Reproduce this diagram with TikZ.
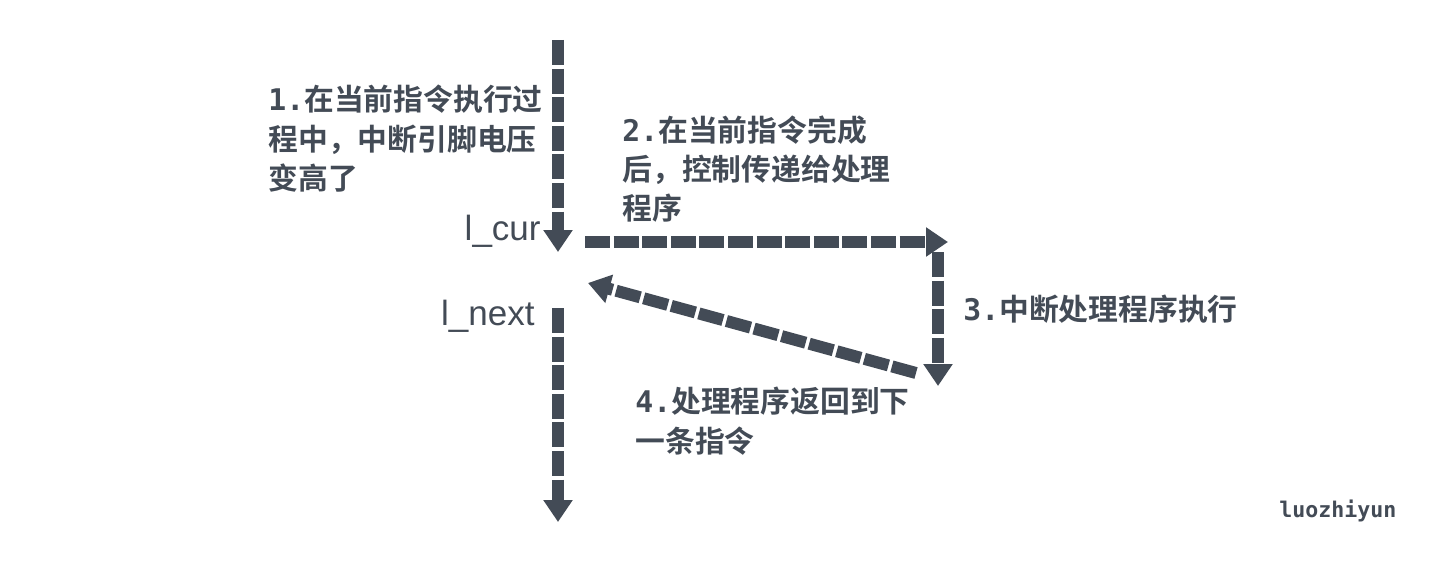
\documentclass[tikz,border=0pt]{standalone}
\usepackage{fontspec}
\newfontfamily\cjk{Noto Sans CJK SC}[BoldFont={Noto Sans CJK SC Bold}]
\newfontfamily\lab{Liberation Sans}
\newfontfamily\mono{DejaVu Sans Mono}
\newcommand\numlab[1]{{\mono\bfseries #1}}
\usetikzlibrary{arrows.meta}
\definecolor{ink}{HTML}{434B56}
\begin{document}
\begin{tikzpicture}[x=0.5pt,y=-0.5pt,
  flow/.style={draw=ink,line width=6pt,dash pattern=on 12.5pt off 1.8pt,
    -{Triangle[width=14pt,length=11pt]}},
  cjktext/.style={text=ink,font=\cjk\bfseries\fontsize{14.9pt}{19.6pt}\selectfont,
    align=left,inner sep=0pt,anchor=north west},
  insn/.style={text=ink,font=\lab\fontsize{17.5pt}{20pt}\selectfont,inner sep=0pt,anchor=east}]
\useasboundingbox (0,0) rectangle (1443,567);
\coordinate (a1s) at (558,40);
\coordinate (a1e) at (558,252);
\coordinate (a2s) at (585,242);
\coordinate (a2e) at (948,242);
\coordinate (a3s) at (938,252);
\coordinate (a3e) at (938,386);
\coordinate (a4s) at (916,373);
\coordinate (a4e) at (588,283);
\coordinate (a5s) at (558,308);
\coordinate (a5e) at (558,522);
\draw[flow] (a1s) -- (a1e);
\draw[flow] (a2s) -- (a2e);
\draw[flow] (a3s) -- (a3e);
\draw[flow] (a4s) -- (a4e);
\draw[flow] (a5s) -- (a5e);
\node[insn] (cur) at (541,231) {l\_cur};
\node[insn] (next) at (535,316) {l\_next};
\node[cjktext] (t1) at (268,85) {\numlab{1.}在当前指令执行过\\程中，中断引脚电压\\变高了};
\node[cjktext] (t2) at (622,115) {\numlab{2.}在当前指令完成\\后，控制传递给处理\\程序};
\node[cjktext] (t3) at (963,295) {\numlab{3.}中断处理程序执行};
\node[cjktext] (t4) at (635,387) {\numlab{4.}处理程序返回到下\\一条指令};
\node[text=ink,font=\mono\bfseries\fontsize{10.8pt}{12pt}\selectfont,inner sep=0pt,anchor=west] (sig) at (1279,511) {luozhiyun};
\end{tikzpicture}
\end{document}
